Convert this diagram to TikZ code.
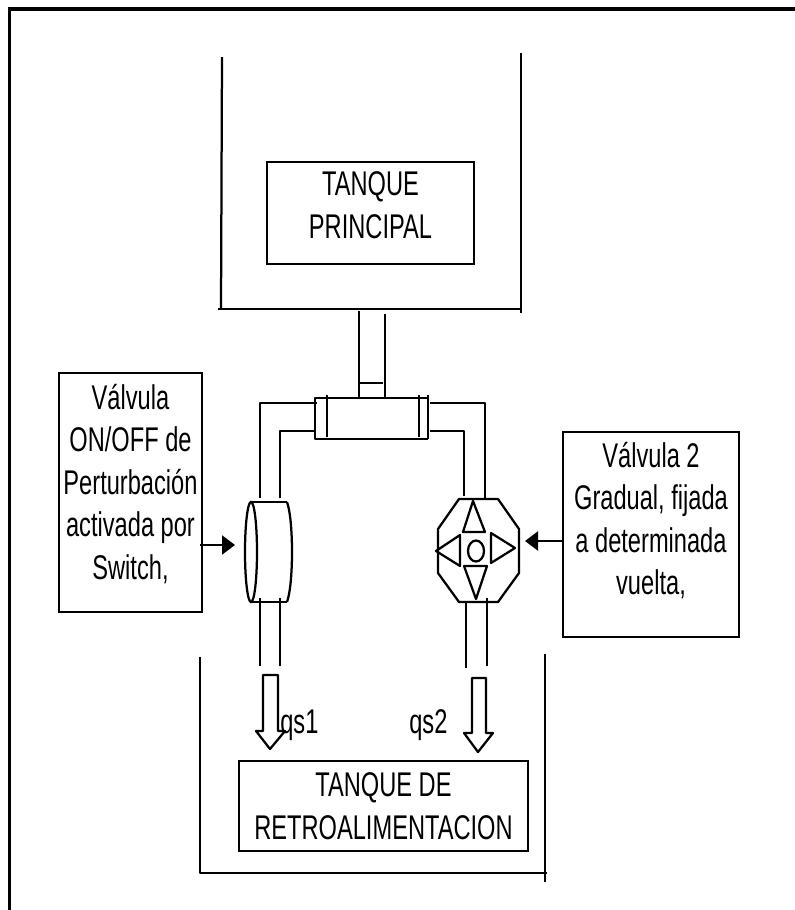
\documentclass[tikz,border=0pt]{standalone}
\usepackage{fontspec}
\setmainfont[FakeStretch=0.69]{Liberation Sans}
\usetikzlibrary{shapes,arrows.meta}
\pgfdeclarelayer{edgelayer}
\pgfdeclarelayer{nodelayer}
\pgfsetlayers{edgelayer,nodelayer,main}
\tikzset{font=\fontsize{19.5}{24.2}\selectfont}
\tikzstyle{none}=[inner sep=0pt]
\tikzstyle{tbox}=[rectangle,draw,line width=0.045cm,inner sep=0pt,align=center]
\tikzstyle{ring}=[ellipse,draw,line width=0.045cm,inner sep=0pt]
\tikzstyle{pipe}=[line width=0.045cm,line join=round]
\tikzstyle{feed}=[line width=0.05cm,-{Triangle[length=0.26cm,width=0.38cm]}]
\begin{document}
\begin{tikzpicture}
	\useasboundingbox (0, 0) rectangle (15.9, -18.2);
	\begin{pgfonlayer}{nodelayer}
		\node [style=none] (0) at (0.19, -18.2) {};
		\node [style=none] (1) at (0.19, -0.18) {};
		\node [style=none] (2) at (15.9, -0.18) {};
		\node [style=none] (3) at (4.44, -1.14) {};
		\node [style=none] (4) at (4.42, -6.18) {};
		\node [style=none] (5) at (4.36, -6.18) {};
		\node [style=none] (6) at (10.42, -6.18) {};
		\node [style=none] (7) at (10.42, -1.06) {};
		\node [style=none] (8) at (10.42, -6.26) {};
		\node [style=tbox, minimum width=4.14cm, minimum height=2.04cm] (9) at (7.41, -4.26) {TANQUE\\PRINCIPAL\\[-15.2pt]~};
		\node [style=none] (10) at (7.18, -6.22) {};
		\node [style=none] (11) at (7.18, -7.94) {};
		\node [style=none] (12) at (7.7, -6.28) {};
		\node [style=none] (13) at (7.7, -7.96) {};
		\node [style=none] (14) at (7.18, -7.66) {};
		\node [style=none] (15) at (7.66, -7.66) {};
		\node [style=none] (16) at (6.3, -7.96) {};
		\node [style=none] (17) at (8.56, -7.96) {};
		\node [style=none] (18) at (8.56, -8.78) {};
		\node [style=none] (19) at (6.3, -8.78) {};
		\node [style=none] (20) at (6.54, -7.9) {};
		\node [style=none] (21) at (6.54, -8.74) {};
		\node [style=none] (22) at (8.38, -7.9) {};
		\node [style=none] (23) at (8.38, -8.74) {};
		\node [style=none] (24) at (8.56, -7.9) {};
		\node [style=none] (25) at (8.56, -8.78) {};
		\node [style=none] (26) at (5.2, -8.06) {};
		\node [style=none] (27) at (6.34, -8.06) {};
		\node [style=none] (28) at (5.2, -9.96) {};
		\node [style=none] (29) at (5.6, -9.96) {};
		\node [style=none] (30) at (5.6, -8.62) {};
		\node [style=none] (31) at (6.3, -8.62) {};
		\node [style=none] (32) at (8.6, -8.06) {};
		\node [style=none] (33) at (9.7, -8.06) {};
		\node [style=none] (34) at (9.7, -9.96) {};
		\node [style=none] (35) at (8.6, -8.62) {};
		\node [style=none] (36) at (9.28, -8.62) {};
		\node [style=none] (37) at (9.28, -9.92) {};
		\node [style=ring, minimum width=0.24cm, minimum height=2cm] (38) at (5.02, -11.04) {};
		\node [style=none] (39) at (5.02, -10.04) {};
		\node [style=none] (40) at (5.74, -10.04) {};
		\node [style=none] (41) at (5.74, -12.04) {};
		\node [style=none] (42) at (5.02, -12.04) {};
		\node [style=none] (43) at (5.2, -11.96) {};
		\node [style=none] (44) at (5.2, -13.32) {};
		\node [style=none] (45) at (5.6, -11.96) {};
		\node [style=none] (46) at (5.6, -13.32) {};
		\node [style=none] (47) at (9.18, -9.98) {};
		\node [style=none] (48) at (9.96, -9.98) {};
		\node [style=none] (49) at (10.38, -10.58) {};
		\node [style=none] (50) at (10.38, -11.46) {};
		\node [style=none] (51) at (9.96, -12.04) {};
		\node [style=none] (52) at (9.18, -12.04) {};
		\node [style=none] (53) at (8.76, -11.46) {};
		\node [style=none] (54) at (8.76, -10.58) {};
		\node [style=none] (55) at (9.46, -10.02) {};
		\node [style=none] (56) at (9.7, -10.64) {};
		\node [style=none] (57) at (9.26, -10.64) {};
		\node [style=none] (58) at (9.28, -11.32) {};
		\node [style=none] (59) at (9.74, -11.32) {};
		\node [style=none] (60) at (9.52, -11.98) {};
		\node [style=none] (61) at (8.72, -11.02) {};
		\node [style=none] (62) at (9.2, -10.7) {};
		\node [style=none] (63) at (9.2, -11.32) {};
		\node [style=none] (64) at (10.3, -10.96) {};
		\node [style=none] (65) at (9.82, -10.66) {};
		\node [style=none] (66) at (9.82, -11.26) {};
		\node [style=ring, minimum width=0.32cm, minimum height=0.42cm] (67) at (9.52, -11.02) {};
		\node [style=none] (68) at (9.32, -12.02) {};
		\node [style=none] (69) at (9.32, -13.36) {};
		\node [style=none] (70) at (9.74, -11.96) {};
		\node [style=none] (71) at (9.74, -13.32) {};
		\node [style=none] (72) at (5.26, -13.5) {};
		\node [style=none] (73) at (5.56, -13.5) {};
		\node [style=none] (74) at (5.56, -14.62) {};
		\node [style=none] (75) at (5.7, -14.62) {};
		\node [style=none] (76) at (5.4, -14.98) {};
		\node [style=none] (77) at (5.12, -14.62) {};
		\node [style=none] (78) at (5.26, -14.62) {};
		\node [style=none] (79) at (9.44, -13.56) {};
		\node [style=none] (80) at (9.72, -13.56) {};
		\node [style=none] (81) at (9.72, -14.66) {};
		\node [style=none] (82) at (9.86, -14.66) {};
		\node [style=none] (83) at (9.56, -15.04) {};
		\node [style=none] (84) at (9.28, -14.66) {};
		\node [style=none] (85) at (9.44, -14.66) {};
		\node [style=none, anchor=base west] (86) at (5.6, -14.66) {qs1};
		\node [style=none, anchor=base west] (87) at (8.18, -14.66) {qs2};
		\node [style=none] (88) at (4, -13.14) {};
		\node [style=none] (89) at (4, -17.46) {};
		\node [style=none] (90) at (10.94, -17.46) {};
		\node [style=none] (91) at (10.9, -13.08) {};
		\node [style=none] (92) at (10.9, -17.64) {};
		\node [style=tbox, minimum width=5.78cm, minimum height=1.8cm] (93) at (7.67, -16.12) {TANQUE DE\\RETROALIMENTACION};
		\node [style=tbox, minimum width=2.86cm, minimum height=4.78cm] (94) at (2.61, -9.85) {Válvula\\ON/OFF de\\Perturbación\\activada por\\Switch,\\[-12pt]~};
		\node [style=tbox, minimum width=3.52cm, minimum height=4.1cm] (95) at (13.02, -10.69) {Válvula 2\\Gradual, fijada\\a determinada\\vuelta,\\[-5.7pt]~};
		\node [style=none] (96) at (4.7, -10.9) {};
		\node [style=none] (97) at (4, -10.9) {};
		\node [style=none] (98) at (11.26, -10.82) {};
		\node [style=none] (99) at (10.5, -10.82) {};
	\end{pgfonlayer}
	\begin{pgfonlayer}{edgelayer}
		\draw[line width=0.075cm] (0.center) to (1.center) to (2.center);
		\draw[style=pipe] (3.center) to (4.center);
		\draw[style=pipe] (5.center) to (6.center);
		\draw[style=pipe] (7.center) to (8.center);
		\draw[style=pipe] (10.center) to (11.center);
		\draw[style=pipe] (12.center) to (13.center);
		\draw[style=pipe] (14.center) to (15.center);
		\draw[style=pipe] (17.center) to (16.center) to (19.center) to (18.center);
		\draw[style=pipe] (20.center) to (21.center);
		\draw[style=pipe] (22.center) to (23.center);
		\draw[style=pipe] (24.center) to (25.center);
		\draw[style=pipe] (28.center) to (26.center) to (27.center);
		\draw[style=pipe] (29.center) to (30.center) to (31.center);
		\draw[style=pipe] (32.center) to (33.center) to (34.center);
		\draw[style=pipe] (35.center) to (36.center) to (37.center);
		\draw[style=pipe] (39.center) to (40.center);
		\draw[style=pipe] (42.center) to (41.center);
		\draw[style=pipe] [in=70, out=-70, looseness=0.50] (40.center) to (41.center);
		\draw[style=pipe] (43.center) to (44.center);
		\draw[style=pipe] (45.center) to (46.center);
		\draw[style=pipe] (47.center) to (48.center) to (49.center) to (50.center) to (51.center) to (52.center) to (53.center) to (54.center) to cycle;
		\draw[style=pipe] (55.center) to (56.center) to (57.center) to cycle;
		\draw[style=pipe] (58.center) to (59.center) to (60.center) to cycle;
		\draw[style=pipe] (61.center) to (62.center) to (63.center) to cycle;
		\draw[style=pipe] (64.center) to (65.center) to (66.center) to cycle;
		\draw[style=pipe] (68.center) to (69.center);
		\draw[style=pipe] (70.center) to (71.center);
		\draw[style=pipe] (72.center) to (73.center) to (74.center) to (75.center) to (76.center) to (77.center) to (78.center) to cycle;
		\draw[style=pipe] (79.center) to (80.center) to (81.center) to (82.center) to (83.center) to (84.center) to (85.center) to cycle;
		\draw[style=pipe] (88.center) to (89.center) to (90.center);
		\draw[style=pipe] (91.center) to (92.center);
		\draw[style=feed] (97.center) to (96.center);
		\draw[style=feed] (98.center) to (99.center);
	\end{pgfonlayer}
\end{tikzpicture}
\end{document}
